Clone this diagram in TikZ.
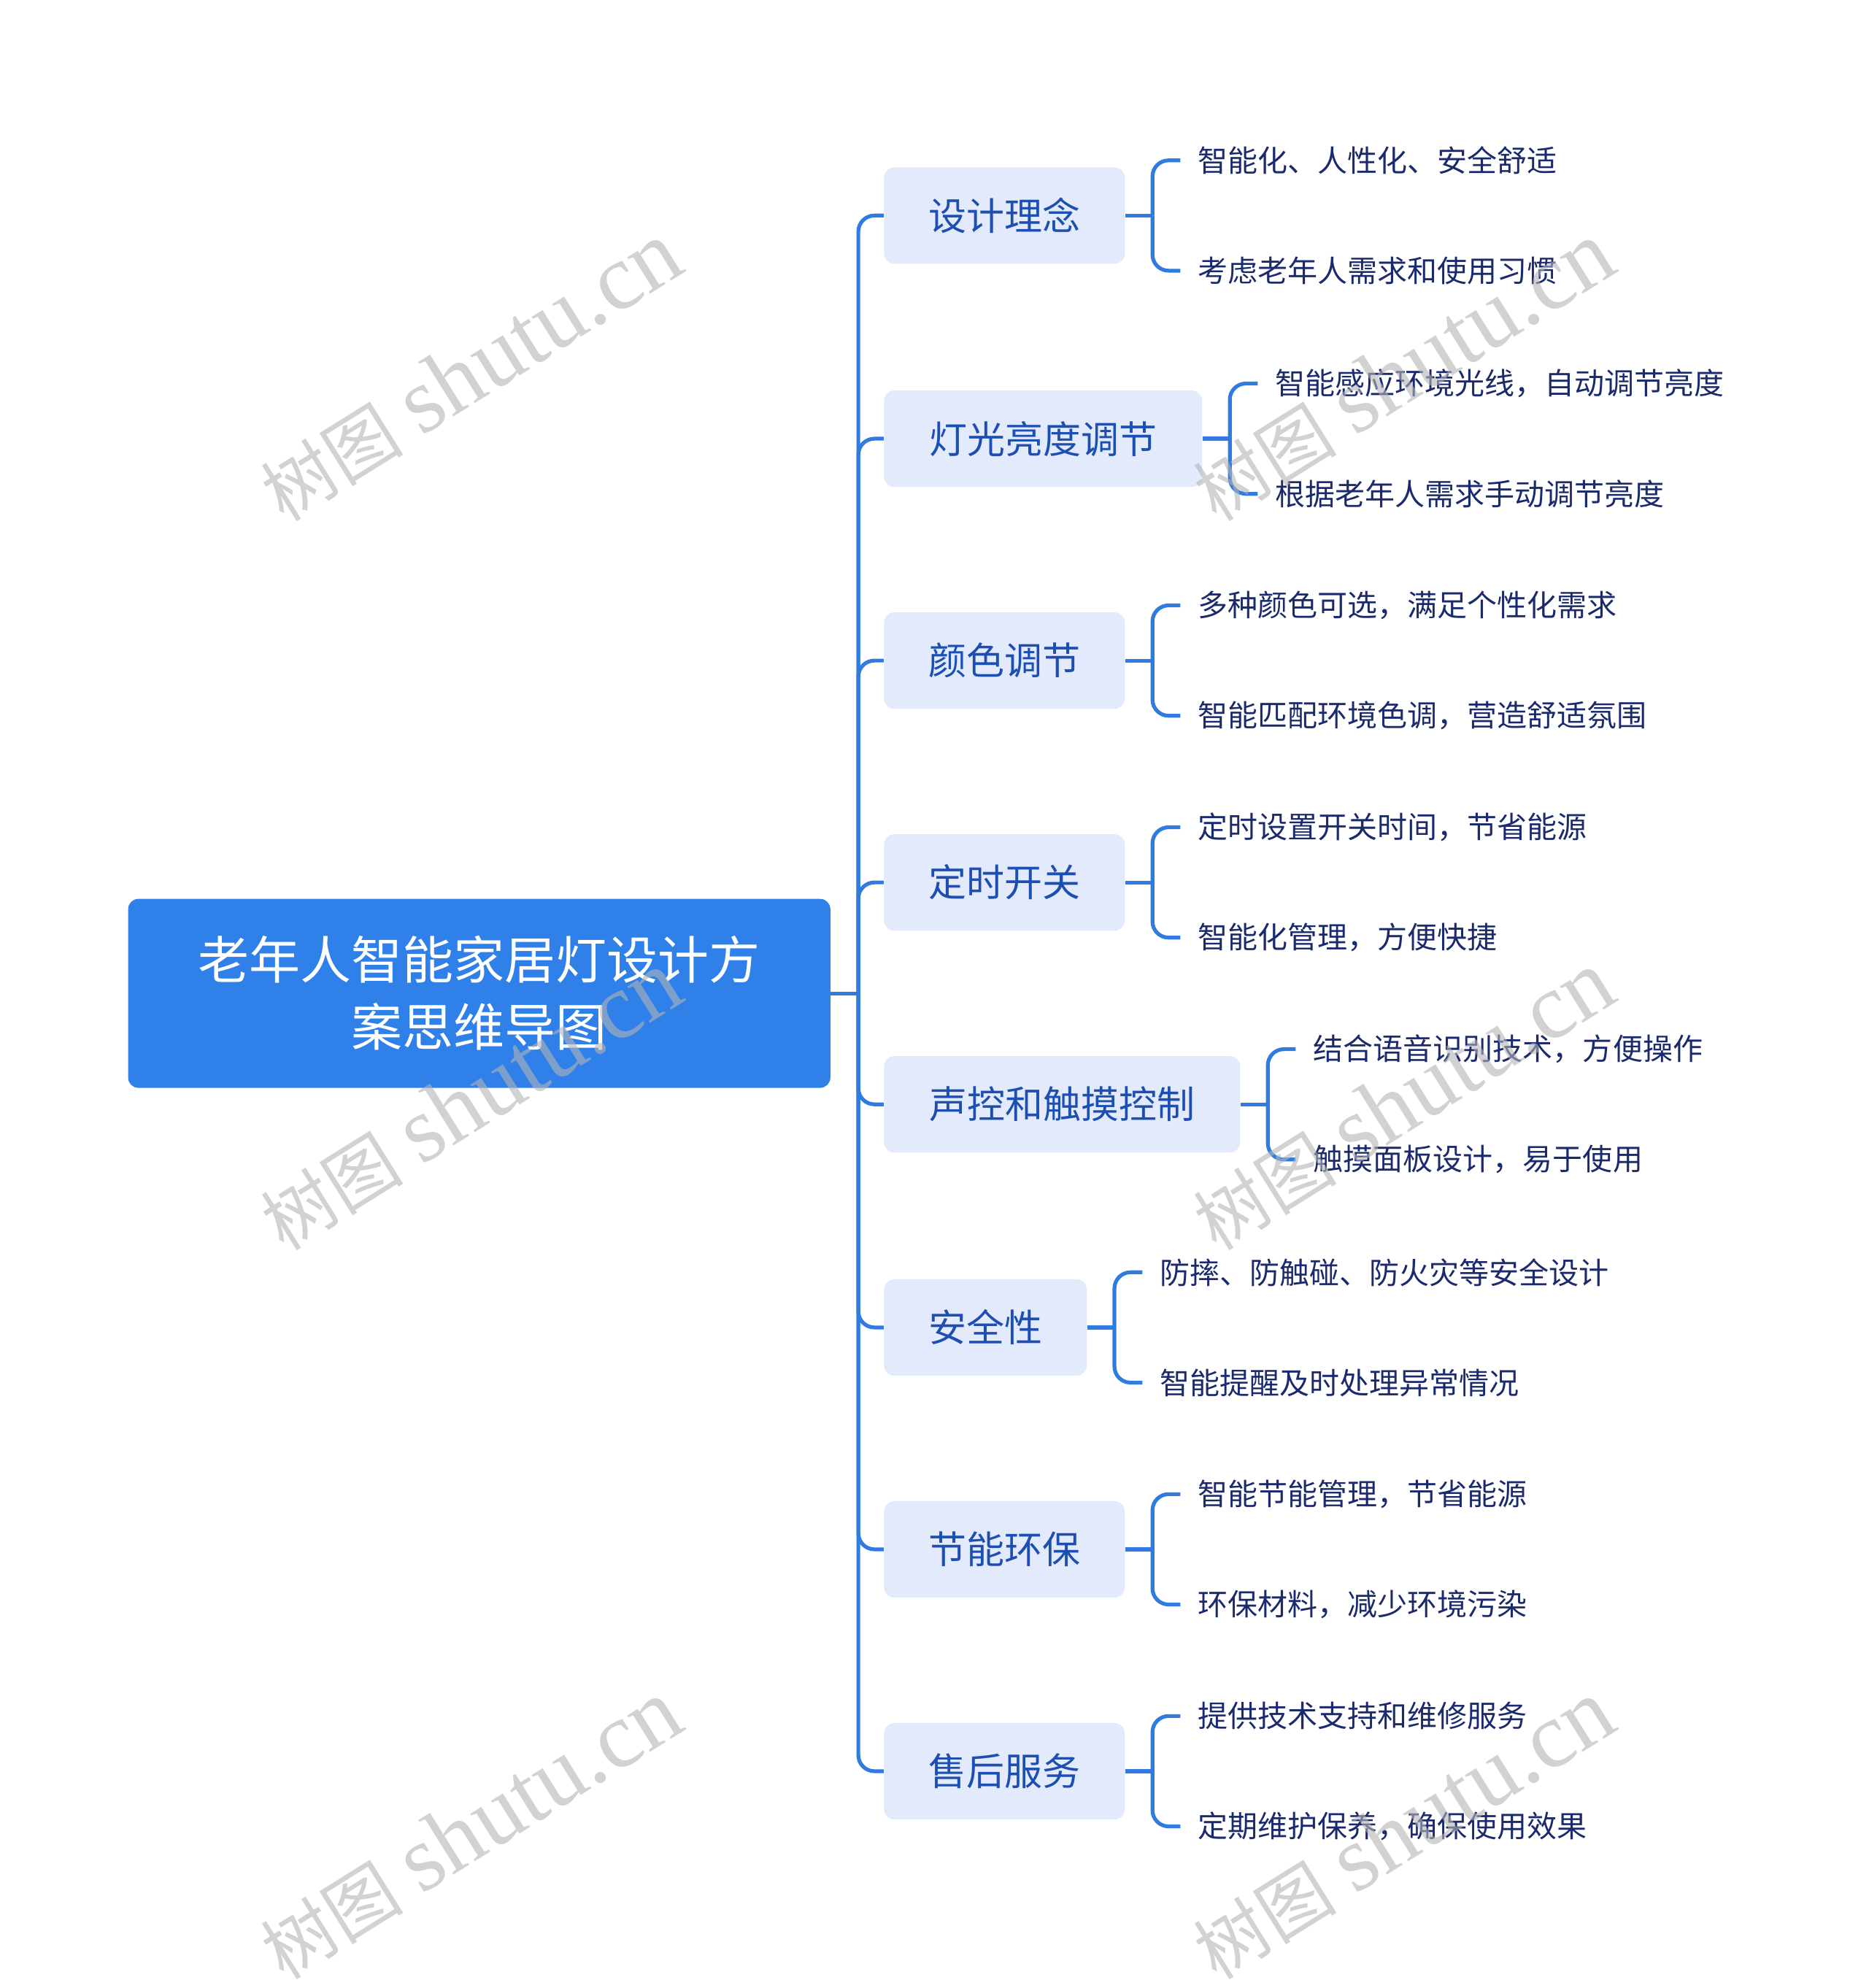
\documentclass[tikz,border=0pt]{standalone}
\usepackage{fontspec}
\setmainfont{Noto Sans CJK SC}
\newfontfamily\wmlatin{Liberation Serif}
\newfontfamily\wmcjk{Noto Sans CJK SC}
\definecolor{rootblue}{HTML}{2F80E9}
\definecolor{linkblue}{HTML}{2F7BE0}
\definecolor{branchfill}{HTML}{E2EAFC}
\definecolor{branchtext}{HTML}{1D4FB3}
\definecolor{leaftext}{HTML}{1A2A6C}
\definecolor{wmgray}{HTML}{B4B4B4}
\tikzset{
  rootbox/.style={fill=rootblue, rounded corners=7pt, text=white, align=center,
    minimum width=481pt, minimum height=129.4pt, inner sep=0pt,
    font=\fontsize{35pt}{46pt}\selectfont},
  branchbox/.style={fill=branchfill, rounded corners=7pt, text=branchtext,
    minimum height=66pt, inner sep=0pt, anchor=west,
    font=\fontsize{26pt}{30pt}\selectfont},
  leafnode/.style={text=leaftext, anchor=west, inner xsep=12pt, inner ysep=0pt,
    font=\fontsize{20.5pt}{24pt}\selectfont},
  conn/.style={draw=linkblue, line width=2.6pt, rounded corners=11pt},
  straight/.style={draw=linkblue, line width=2.6pt},
  wmark/.style={rotate=32, text=wmgray, text opacity=0.6, inner sep=0pt}
}
\begin{document}
\begin{tikzpicture}[x=0.8684pt, y=-0.8684pt]
\useasboundingbox (0,0) rectangle (1474,1568);
\node[rootbox] (root) at (378,783.5) {老年人智能家居灯设计方\\案思维导图};
\coordinate (trunk) at (677,783.5);
\draw[straight] (root.east) -- (trunk);
\foreach \i/\cy/\r/\t/\la/\lb in {
1/170/887/设计理念/智能化、人性化、安全舒适/考虑老年人需求和使用习惯,
2/346/948/灯光亮度调节/智能感应环境光线，自动调节亮度/根据老年人需求手动调节亮度,
3/521/887/颜色调节/多种颜色可选，满足个性化需求/智能匹配环境色调，营造舒适氛围,
4/696/887/定时开关/定时设置开关时间，节省能源/智能化管理，方便快捷,
5/871/978/声控和触摸控制/结合语音识别技术，方便操作/触摸面板设计，易于使用,
6/1047/857/安全性/防摔、防触碰、防火灾等安全设计/智能提醒及时处理异常情况,
7/1222/887/节能环保/智能节能管理，节省能源/环保材料，减少环境污染,
8/1397/887/售后服务/提供技术支持和维修服务/定期维护保养，确保使用效果}{
  \pgfmathsetmacro\bw{(\r-697)*0.8684}
  \pgfmathsetmacro\jx{\r+22}
  \pgfmathsetmacro\lx{\r+44}
  \pgfmathsetmacro\ya{\cy-43.5}
  \pgfmathsetmacro\yb{\cy+43.5}
  \node[branchbox, minimum width=\bw pt] (b\i) at (697,\cy) {\t};
  \draw[conn] (trunk) |- (b\i.west);
  \coordinate (j\i) at (\jx,\cy);
  \node[leafnode] (l\i a) at (\lx,\ya) {\la};
  \node[leafnode] (l\i b) at (\lx,\yb) {\lb};
  \draw[straight] (b\i.east) -- (j\i);
  \draw[conn] (j\i) |- (l\i a.west);
  \draw[conn] (j\i) |- (l\i b.west);
}
\foreach \k/\x/\y in {1/371/293, 2/371/868, 3/371/1443, 4/1107/293, 5/1107/868, 6/1107/1443}{
  \node[wmark] (wm\k) at (\x,\y) {{\wmcjk\fontsize{49pt}{56pt}\selectfont 树图}\hspace{13pt}{\wmlatin\fontsize{64pt}{72pt}\selectfont shutu.cn}};
}
\end{tikzpicture}
\end{document}
